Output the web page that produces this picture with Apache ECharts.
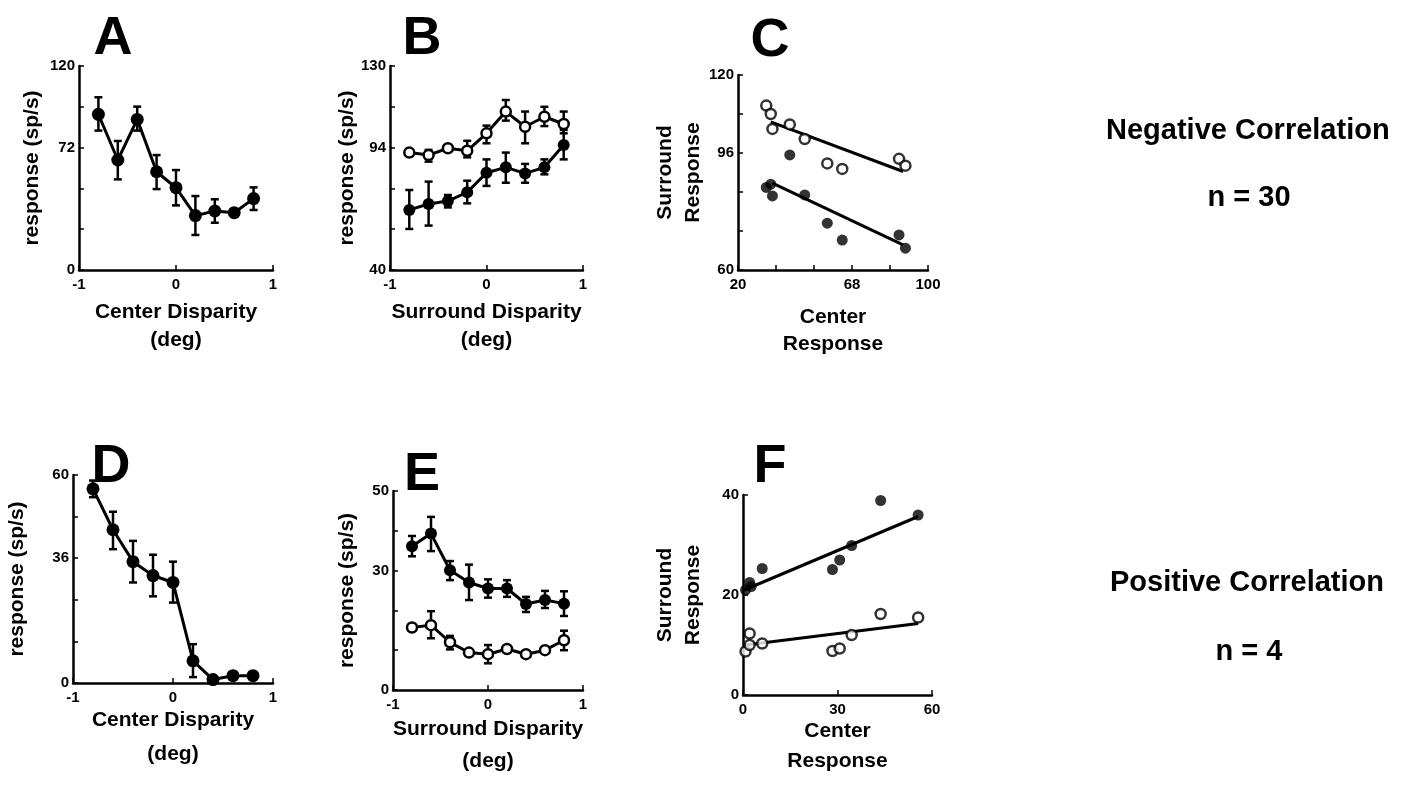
<!DOCTYPE html>
<html><head><meta charset="utf-8">
<script src="https://cdn.jsdelivr.net/npm/echarts@6/dist/echarts.min.js"></script>
<style>html,body{margin:0;padding:0;background:#fff}#c{width:1409px;height:787px}</style>
</head><body><div id="c"></div>
<script>
// ---------- DATA ----------
const dispX = [-0.8, -0.6, -0.4, -0.2, 0, 0.2, 0.4, 0.6, 0.8];

// Panel A (center disparity tuning)
const aMean = [91.6, 64.7, 88.6, 57.8, 48.4, 32.0, 34.7, 33.7, 42.0];
const aHi   = [101.6, 75.9, 96.1, 67.6, 58.8, 43.5, 41.6, 33.7, 48.6];
const aLo   = [82.0, 53.3, 82.0, 47.6, 38.0, 20.6, 27.8, 33.7, 35.3];

// Panel B (surround disparity tuning)
const bFilled   = [66.5, 69.1, 70.4, 74.3, 82.9, 85.3, 82.6, 85.3, 95.1];
const bFilledHi = [75.3, 79.0, 73.1, 79.4, 88.8, 91.8, 86.8, 88.8, 101.8];
const bFilledLo = [58.1, 59.6, 67.6, 69.4, 77.1, 78.5, 78.5, 82.2, 88.8];
const bOpen     = [91.8, 90.7, 93.7, 92.6, 100.3, 109.9, 103.2, 107.6, 104.4];
const bOpenHi   = [91.8, 93.0, 93.7, 97.0, 103.7, 115.0, 109.9, 112.0, 109.9];
const bOpenLo   = [91.8, 87.8, 93.7, 89.7, 95.9, 105.9, 95.9, 103.5, 100.3];

// Panel C (center vs surround response)
const cOpenX   = [31.9, 33.8, 34.5, 41.8, 48.1, 57.6, 63.9, 87.8, 90.5];
const cOpenY   = [110.6, 108.0, 103.4, 104.8, 100.3, 92.8, 91.1, 94.2, 92.1];
const cFilledX = [31.9, 33.8, 34.5, 41.8, 48.1, 57.6, 63.9, 87.8, 90.5];
const cFilledY = [85.4, 86.4, 82.8, 95.4, 83.1, 74.4, 69.2, 70.8, 66.7];
const cOpenFitX = [33.8, 89.5],  cOpenFitY = [105.6, 90.3];
const cFilledFitX = [34.5, 89.5], cFilledFitY = [86.7, 67.7];

// Panel D
const dMean = [56.0, 44.2, 35.0, 31.0, 29.0, 6.4, 1.0, 2.1, 2.1];
const dHi   = [58.4, 49.4, 41.0, 37.0, 35.0, 11.2, 1.0, 2.1, 2.1];
const dLo   = [53.6, 38.6, 29.0, 25.0, 23.2, 1.7, 1.0, 2.1, 2.1];

// Panel E
const eFilled   = [36.1, 39.3, 30.1, 27.0, 25.5, 25.5, 21.6, 22.6, 21.7];
const eFilledHi = [38.7, 43.5, 32.4, 31.5, 27.8, 27.6, 23.4, 24.9, 24.8];
const eFilledLo = [33.6, 34.9, 27.6, 22.6, 23.2, 23.4, 19.6, 20.6, 18.6];
const eOpen     = [15.7, 16.3, 12.0, 9.4, 9.0, 10.3, 9.0, 10.0, 12.5];
const eOpenHi   = [15.7, 19.8, 13.6, 9.4, 11.3, 10.3, 9.0, 10.0, 14.9];
const eOpenLo   = [15.7, 13.0, 10.2, 9.4, 6.7, 10.3, 9.0, 10.0, 10.0];

// Panel F
const fFilledX = [0.8, 2.1, 2.6, 6.1, 28.4, 30.7, 34.5, 43.7, 55.6];
const fFilledY = [21.0, 22.5, 21.7, 25.3, 25.1, 27.0, 29.9, 38.9, 36.0];
const fOpenX   = [0.8, 2.1, 2.1, 6.1, 28.4, 30.7, 34.5, 43.7, 55.6];
const fOpenY   = [8.7, 12.3, 10.0, 10.3, 8.8, 9.3, 12.0, 16.2, 15.5];
const fFilledFitX = [0, 55.6],  fFilledFitY = [20.9, 35.7];
const fOpenFitX = [0.8, 55.6], fOpenFitY = [10.0, 14.3];

// Tick labels
const dispTickLabels = [-1, 0, 1];
const aYLabels = [0, 72, 120];
const bYLabels = [40, 94, 130];
const cXLabels = [20, 68, 100];
const cYLabels = [60, 96, 120];
const dYLabels = [0, 36, 60];
const eYLabels = [0, 30, 50];
const fXLabels = [0, 30, 60];
const fYLabels = [0, 20, 40];

const panelLetters = ['A', 'B', 'C', 'D', 'E', 'F'];
const sideTexts = ['Negative Correlation', 'n = 30', 'Positive Correlation', 'n = 4'];

// ---------- HELPERS ----------
const FONT = '"Liberation Sans", Arial, Helvetica, sans-serif';
const zip = (xs, ys) => xs.map((x, i) => [x, ys[i]]);
const zip3 = (xs, lo, hi) => xs.map((x, i) => [x, lo[i], hi[i]]);

function axis(gridIndex, min, max, interval, labels, name, nameGap, lineHeight, isY) {
  return {
    type: 'value', gridIndex, min, max, interval,
    axisLine: { show: true, onZero: false, lineStyle: { color: '#000', width: 2.5 } },
    axisTick: { show: true, inside: true, length: 5, lineStyle: { color: '#000', width: 1.5 } },
    splitLine: { show: false },
    axisLabel: {
      color: '#000', fontWeight: 'bold', fontSize: 15, fontFamily: FONT, margin: isY ? 4 : 7,
      formatter: v => labels.some(l => Math.abs(l - v) < 1e-9) ? String(v) : ''
    },
    name, nameLocation: 'middle', nameGap, nameRotate: isY ? 90 : 0, nameMoveOverlap: false,
    nameTextStyle: { color: '#000', fontWeight: 'bold', fontSize: 21, fontFamily: FONT, lineHeight }
  };
}

function errBars(idx, xs, lo, hi) {
  return {
    type: 'custom', xAxisIndex: idx, yAxisIndex: idx, z: 2,
    data: zip3(xs, lo, hi),
    encode: { x: 0, y: [1, 2] },
    renderItem: (params, api) => {
      const x = api.value(0), l = api.value(1), h = api.value(2);
      if (Math.abs(h - l) < 1e-6) return null;
      const p1 = api.coord([x, l]), p2 = api.coord([x, h]);
      const w = 4, st = { stroke: '#000', lineWidth: 2.5 };
      return { type: 'group', children: [
        { type: 'line', shape: { x1: p1[0], y1: p1[1], x2: p2[0], y2: p2[1] }, style: st },
        { type: 'line', shape: { x1: p1[0] - w, y1: p1[1], x2: p1[0] + w, y2: p1[1] }, style: st },
        { type: 'line', shape: { x1: p2[0] - w, y1: p2[1], x2: p2[0] + w, y2: p2[1] }, style: st }
      ]};
    }
  };
}

function curve(idx, xs, ys, open, size) {
  return {
    type: 'line', xAxisIndex: idx, yAxisIndex: idx, z: 3,
    data: zip(xs, ys), symbol: 'circle', symbolSize: size, showSymbol: true,
    lineStyle: { color: '#000', width: 3 },
    itemStyle: open ? { color: '#fff', borderColor: '#000', borderWidth: 2.5 } : { color: '#000', borderColor: '#000', borderWidth: 0 },
    silent: true, animation: false
  };
}

function dots(idx, xs, ys, open, size) {
  return {
    type: 'scatter', xAxisIndex: idx, yAxisIndex: idx, z: 4,
    data: zip(xs, ys), symbol: 'circle', symbolSize: size,
    itemStyle: open ? { color: '#fff', borderColor: '#000', borderWidth: 2.5 } : { color: '#000', borderWidth: 0 },
    silent: true, animation: false
  };
}

function fit(idx, xs, ys) {
  return {
    type: 'line', xAxisIndex: idx, yAxisIndex: idx, z: 2,
    data: zip(xs, ys), symbol: 'none', lineStyle: { color: '#000', width: 3 },
    silent: true, animation: false
  };
}

const grids = [
  { left: 79,  top: 66,  width: 194, height: 204 },
  { left: 390, top: 66,  width: 193, height: 204 },
  { left: 738, top: 75,  width: 190, height: 195 },
  { left: 73,  top: 475, width: 200, height: 208 },
  { left: 393, top: 491, width: 190, height: 199 },
  { left: 743, top: 495, width: 189, height: 200 }
].map(g => Object.assign(g, { containLabel: false, outerBoundsMode: 'none' }));

const xAxes = [
  axis(0, -1, 1, 1, dispTickLabels, 'Center Disparity\n(deg)', 28, 28, false),
  axis(1, -1, 1, 1, dispTickLabels, 'Surround Disparity\n(deg)', 28, 28, false),
  axis(2, 20, 100, 16, cXLabels, 'Center\nResponse', 34, 27, false),
  axis(3, -1, 1, 1, dispTickLabels, 'Center Disparity\n(deg)', 20, 34, false),
  axis(4, -1, 1, 1, dispTickLabels, 'Surround Disparity\n(deg)', 23, 32, false),
  axis(5, 0, 60, 30, fXLabels, 'Center\nResponse', 21, 30, false)
];
const yAxes = [
  axis(0, 0, 120, 24, aYLabels, 'response (sp/s)', 36, 22, true),
  axis(1, 40, 130, 18, bYLabels, 'response (sp/s)', 32, 22, true),
  axis(2, 60, 120, 12, cYLabels, 'Surround\nResponse', 31, 28, true),
  axis(3, 0, 60, 12, dYLabels, 'response (sp/s)', 45, 22, true),
  axis(4, 0, 50, 10, eYLabels, 'response (sp/s)', 35, 22, true),
  axis(5, 0, 40, 20, fYLabels, 'Surround\nResponse', 36, 28, true)
];

const series = [
  errBars(0, dispX, aLo, aHi), curve(0, dispX, aMean, false, 13),
  errBars(1, dispX, bOpenLo, bOpenHi), errBars(1, dispX, bFilledLo, bFilledHi),
  curve(1, dispX, bOpen, true, 10), curve(1, dispX, bFilled, false, 12),
  fit(2, cOpenFitX, cOpenFitY), fit(2, cFilledFitX, cFilledFitY),
  dots(2, cOpenX, cOpenY, true, 10), dots(2, cFilledX, cFilledY, false, 11),
  errBars(3, dispX, dLo, dHi), curve(3, dispX, dMean, false, 13),
  errBars(4, dispX, eOpenLo, eOpenHi), errBars(4, dispX, eFilledLo, eFilledHi),
  curve(4, dispX, eOpen, true, 10), curve(4, dispX, eFilled, false, 12),
  fit(5, fFilledFitX, fFilledFitY), fit(5, fOpenFitX, fOpenFitY),
  dots(5, fOpenX, fOpenY, true, 10), dots(5, fFilledX, fFilledY, false, 11)
];

const letterPos = [[113, 12], [422, 12], [770, 14], [111, 440], [422, 448], [770, 440]];
const sidePos = [[1106, 131, 'left'], [1249, 198, 'center'], [1110, 583, 'left'], [1249, 652, 'center']];
const graphic = [
  ...panelLetters.map((t, i) => ({
    type: 'text', x: letterPos[i][0], y: letterPos[i][1],
    style: { text: t, font: `bold 54px ${FONT}`, fill: '#000', textAlign: 'center', textVerticalAlign: 'top' }
  })),
  ...sideTexts.map((t, i) => ({
    type: 'text', x: sidePos[i][0], y: sidePos[i][1],
    style: { text: t, font: `bold 29px ${FONT}`, fill: '#000', textAlign: sidePos[i][2], textVerticalAlign: 'middle' }
  }))
];

const chart = echarts.init(document.getElementById('c'), null, { renderer: 'canvas' });
chart.setOption({
  animation: false,
  backgroundColor: '#fff',
  grid: grids, xAxis: xAxes, yAxis: yAxes, series, graphic
});
</script></body></html>
